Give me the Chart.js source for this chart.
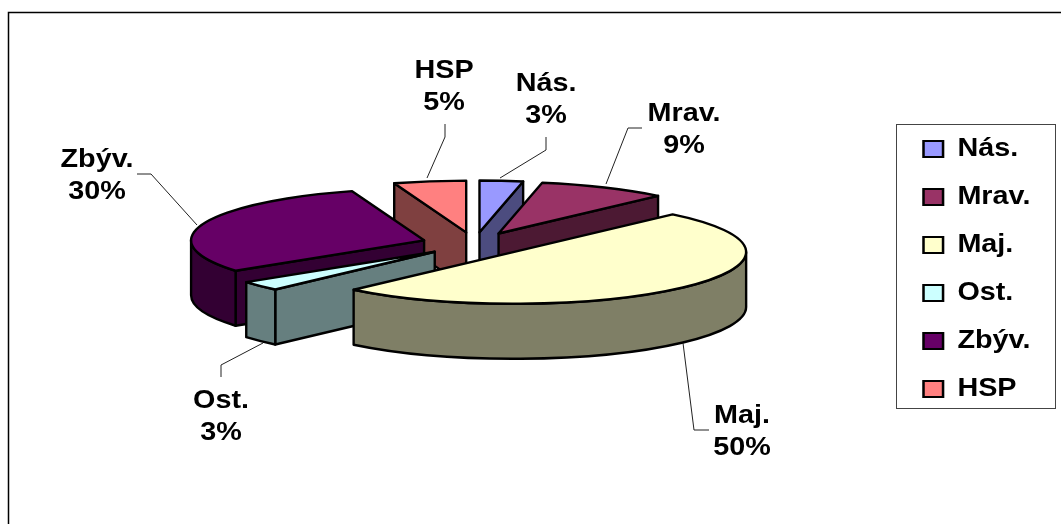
<!DOCTYPE html>
<html><head><meta charset="utf-8">
<style>html,body{margin:0;padding:0;background:#fff}canvas{display:block}</style>
<script src="https://cdn.jsdelivr.net/npm/chart.js@4"></script>
</head><body>
<div style="width:1061px;height:524px"><canvas id="c" width="1061" height="524"></canvas></div>
<script>
const categories = ['Nás.','Mrav.','Maj.','Ost.','Zbýv.','HSP'];
const percents = [3,9,50,3,30,5];
const topColors = ['#9999FF','#993366','#FFFFCC','#CCFFFF','#660066','#FF8080'];
const sideColors = ['#4C4C7F','#4C1933','#7F7F66','#667F7F','#330033','#7F4040'];
const drawOrder = [0,5,1,4,3,2];

const FONT = 'bold 25px "Liberation Sans", Arial, sans-serif';
const SQUASH = 0.222, DEPTH = 55, EXPLODE = 53, RADIUS = 233, PIE_X = 474.5, PIE_Y = 244;
const TEXT_STRETCH = 1.15, LEGEND_LEFT = 923.5;
const labelSpots = [
 {x:546,y:84,line:[[546,137],[546,150],[500,178]]},
 {x:684,y:114,line:[[642,128],[628,128],[606,184]]},
 {x:742,y:416,line:[[709,430],[694,430],[683,343]]},
 {x:221,y:401,line:[[221,377],[221,365],[263,343]]},
 {x:97,y:160,line:[[137,174],[151,174],[197,225]]},
 {x:444,y:71,line:[[445,124],[445,137],[427,178]]}
];

function screen(chart, arc){
  const ca = chart.chartArea, cx=(ca.left+ca.right)/2, cy=(ca.top+ca.bottom)/2;
  return {x:PIE_X+(arc.x-cx), y:PIE_Y+(arc.y-cy)*SQUASH, rx:arc.outerRadius, ry:arc.outerRadius*SQUASH};
}
const pie3d = {
  id:'pie3d',
  afterLayout(chart){
    const lg=chart.legend;
    if(lg && !lg._stretched){
      lg._stretched=true;
      const d=lg.draw;
      lg.draw=function(){
        const c=chart.ctx, L=this.left+this.options.labels.padding;
        c.save(); c.translate(LEGEND_LEFT,0); c.scale(TEXT_STRETCH,1); c.translate(-L,0);
        d.call(this);
        c.restore();
      };
    }
  },
  afterDatasetsUpdate(chart){
    chart.getDatasetMeta(0).data.forEach(a=>{
      const m=(a.startAngle+a.endAngle)/2;
      a.x+=Math.cos(m)*EXPLODE; a.y+=Math.sin(m)*EXPLODE;
    });
  },
  beforeDraw(chart){
    const c=chart.ctx;
    c.save();
    c.fillStyle='#fff'; c.fillRect(0,0,chart.width,chart.height);
    c.strokeStyle='#000'; c.lineWidth=1.5;
    c.beginPath(); c.moveTo(8.5,chart.height); c.lineTo(8.5,12.5); c.lineTo(chart.width,12.5); c.stroke();
    c.strokeStyle='#444'; c.lineWidth=1; c.strokeRect(896.5,124.5,159,284);
    c.restore();
  },
  beforeDatasetsDraw(chart){
    const c=chart.ctx, arcs=chart.getDatasetMeta(0).data;
    c.save(); c.strokeStyle='#000'; c.lineWidth=2.4; c.lineJoin='round';
    drawOrder.forEach(i=>{
      const a=arcs[i], s=screen(chart,a), A=a.startAngle, B=a.endAngle;
      c.fillStyle=sideColors[i];
      const radial=t=>{
        const px=s.x+s.rx*Math.cos(t), py=s.y+s.ry*Math.sin(t);
        c.beginPath(); c.moveTo(s.x,s.y); c.lineTo(px,py); c.lineTo(px,py+DEPTH); c.lineTo(s.x,s.y+DEPTH); c.closePath(); c.fill(); c.stroke();
      };
      if(Math.cos(A)<0) radial(A);
      if(Math.cos(B)>0) radial(B);
      [[0,Math.PI],[2*Math.PI,3*Math.PI]].forEach(([lo,hi])=>{
        const f=Math.max(A,lo), t=Math.min(B,hi);
        if(t>f){
          c.beginPath(); c.ellipse(s.x,s.y,s.rx,s.ry,0,f,t);
          c.ellipse(s.x,s.y+DEPTH,s.rx,s.ry,0,t,f,true); c.closePath(); c.fill(); c.stroke();
        }
      });
    });
    c.restore();
    const ca=chart.chartArea, cx=(ca.left+ca.right)/2, cy=(ca.top+ca.bottom)/2;
    c.save();
    c.translate(PIE_X,PIE_Y); c.scale(1,SQUASH); c.translate(-cx,-cy);
  },
  afterDatasetsDraw(chart){
    const c=chart.ctx, arcs=chart.getDatasetMeta(0).data;
    c.restore();
    c.save(); c.strokeStyle='#000'; c.lineWidth=2.4; c.lineJoin='round';
    drawOrder.forEach(i=>{
      const a=arcs[i], s=screen(chart,a);
      c.beginPath(); c.moveTo(s.x,s.y); c.ellipse(s.x,s.y,s.rx,s.ry,0,a.startAngle,a.endAngle); c.closePath(); c.stroke();
    });
    c.restore();
    c.save();
    c.font=FONT; c.fillStyle='#000'; c.textAlign='center'; c.textBaseline='middle';
    labelSpots.forEach((p,i)=>{
      [categories[i],percents[i]+'%'].forEach((t,k)=>{
        c.save(); c.translate(p.x,p.y+k*32.5); c.scale(TEXT_STRETCH,1); c.fillText(t,0,0); c.restore();
      });
      c.strokeStyle='#222'; c.lineWidth=1;
      c.beginPath(); p.line.forEach((q,k)=>k?c.lineTo(q[0],q[1]):c.moveTo(q[0],q[1])); c.stroke();
    });
    c.restore();
  }
};
new Chart(document.getElementById('c'),{
  type:'pie',
  data:{labels:categories,datasets:[{data:percents,backgroundColor:topColors,borderWidth:0,clip:false}]},
  plugins:[pie3d],
  options:{
    responsive:false,animation:false,rotation:0,radius:RADIUS,
    layout:{padding:{top:14,right:10}},
    plugins:{
      tooltip:{enabled:false},
      legend:{position:'right',align:'center',
        labels:{color:'#000',font:{family:'"Liberation Sans", Arial, sans-serif',weight:'bold',size:25},boxWidth:17,boxHeight:16,padding:23,
          generateLabels:()=>categories.map((t,i)=>({text:t,fillStyle:topColors[i],strokeStyle:'#000',lineWidth:2.2,hidden:false,index:i,fontColor:'#000'}))}
      }
    }
  }
});
</script></body></html>
